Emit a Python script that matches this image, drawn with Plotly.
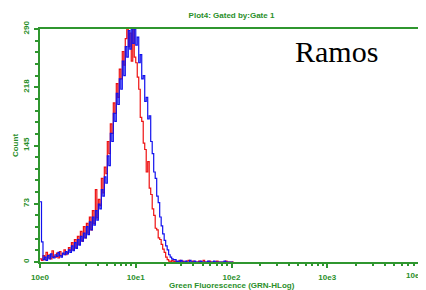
import plotly.graph_objects as go

# Histogram channels (256 channels over 4 decades; 64 channels per decade)
CHANNELS_PER_DECADE = 64

red_counts = [
    4, 2, 8, 3, 12, 5, 9, 4, 14, 7, 6, 11, 5, 13, 8, 10, 15, 9, 12, 18,
    14, 24, 15, 28, 18, 32, 22, 38, 26, 44,
    30, 48, 36, 56, 40, 64, 48, 90, 55, 78,
    70, 104, 86, 118, 110, 150, 135, 172, 160, 198,
    185, 222, 205, 240, 228, 262, 245, 278, 290, 268,
    285, 250, 290, 255, 248, 230, 215, 180, 175, 148,
    140, 112, 125, 92, 84, 66, 58, 42, 40, 30,
    28, 22, 16, 12, 6, 3, 1, 0, 2, 0,
    1, 0, 0, 2, 0, 1, 0, 0, 1, 2, 0, 0, 1, 0, 0, 0, 1, 0, 0, 2,
    0, 0, 0, 1, 0, 0, 0, 0, 1, 0, 0, 0, 0, 0, 1, 0, 0, 0, 0, 1,
]

blue_counts = [
    75, 25, 3, 6, 2, 8, 4, 10, 6, 5, 9, 7, 12, 8, 6, 11, 9, 13, 10, 15,
    12, 20, 14, 24, 17, 28, 21, 32, 26, 36,
    30, 44, 34, 50, 40, 56, 46, 64, 52, 72,
    66, 90, 82, 106, 98, 132, 120, 160, 150, 185,
    175, 210, 196, 228, 215, 250, 232, 268, 255, 288,
    265, 290, 272, 290, 270, 280, 248, 258, 228, 232,
    200, 205, 178, 182, 150, 135, 112, 104, 82, 74,
    56, 45, 35, 27, 20, 15, 9, 6, 4, 3,
    3, 0, 1, 0, 2, 0, 0, 1, 0, 0, 2, 0, 0, 1, 0, 0, 0, 1, 0, 0,
    0, 0, 1, 0, 0, 0, 1, 0, 0, 0, 0, 0, 0, 1, 0, 0, 0, 0, 0, 0,
]

x_tick_values = [1, 10, 100, 1000, 10000]
x_tick_labels = ["10e0", "10e1", "10e2", "10e3", "10e4"]
y_tick_values = [0, 72.5, 145, 217.5, 290]
y_tick_labels = ["0", "73", "145", "218", "290"]

GREEN = "#2f962f"
TXT_GREEN = "#2a8f2a"


def channel_to_value(ch):
    return 10 ** (ch / CHANNELS_PER_DECADE)


red_x = [channel_to_value(i) for i in range(len(red_counts))]
blue_x = [channel_to_value(i) for i in range(len(blue_counts))]

fig = go.Figure()
fig.add_trace(go.Scatter(x=red_x, y=red_counts, mode="lines", line_shape="hv",
                         line=dict(color="#ee1111", width=1.2), showlegend=False))
fig.add_trace(go.Scatter(x=blue_x, y=blue_counts, mode="lines", line_shape="hv",
                         line=dict(color="#1111ee", width=1.2), showlegend=False))

minor_x = [k * 10 ** d for d in range(4) for k in range(2, 10)]

lbl_font = dict(family="Liberation Sans", size=8, color=TXT_GREEN, weight="bold")

# page has an 8px body margin: figure is 418x282 placed at (8, 8)
fig.update_layout(
    width=418, height=282,
    margin=dict(l=32, r=3, t=21, b=28, autoexpand=False),
    paper_bgcolor="white", plot_bgcolor="white",
    title=dict(text="Plot4: Gated by:Gate 1", x=0.5, xref="paper", xanchor="center",
               y=1 - 7 / 282, yref="container", yanchor="middle", font=lbl_font),
    xaxis=dict(type="log", range=[0, 4], showgrid=False, zeroline=False,
               showline=True, linecolor=GREEN, linewidth=2, mirror=True,
               ticks="outside", ticklen=4, tickwidth=1.5, tickcolor=GREEN,
               tickvals=x_tick_values[:-1], ticktext=x_tick_labels[:-1], tickfont=lbl_font,
               ticklabelstandoff=2,
               minor=dict(tickmode="array", tickvals=minor_x, ticks="outside",
                          ticklen=2, tickwidth=1.5, tickcolor=GREEN, showgrid=False),
               automargin=False),
    yaxis=dict(range=[0, 290], showgrid=False, zeroline=False,
               showline=True, linecolor=GREEN, linewidth=2, mirror=True,
               ticks="outside", ticklen=4, tickwidth=1.5, tickcolor=GREEN,
               tickvals=y_tick_values, ticktext=y_tick_labels, tickfont=lbl_font,
               tickangle=-90, ticklabelstandoff=2,
               minor=dict(tickmode="linear", tick0=0, dtick=14.5, ticks="outside",
                          ticklen=3, tickwidth=1.5, tickcolor=GREEN, showgrid=False),
               title=dict(text="Count", standoff=2, font=lbl_font),
               automargin=False),
    annotations=[
        dict(text="Ramos", xref="paper", yref="paper", x=0.773, y=0.905,
             xanchor="center", yanchor="middle", showarrow=False,
             font=dict(family="Liberation Serif", size=30, color="black")),
        dict(text="Green Fluorescence (GRN-HLog)", xref="paper", yref="paper",
             x=0.5, y=-0.1, xanchor="center", yanchor="middle", showarrow=False,
             font=lbl_font),
        dict(text=x_tick_labels[-1], xref="paper", yref="paper",
             x=1.0, y=-0.057, xanchor="right", yanchor="middle", showarrow=False,
             xshift=3, font=lbl_font),
    ],
)

fig.write_html("out.html")
